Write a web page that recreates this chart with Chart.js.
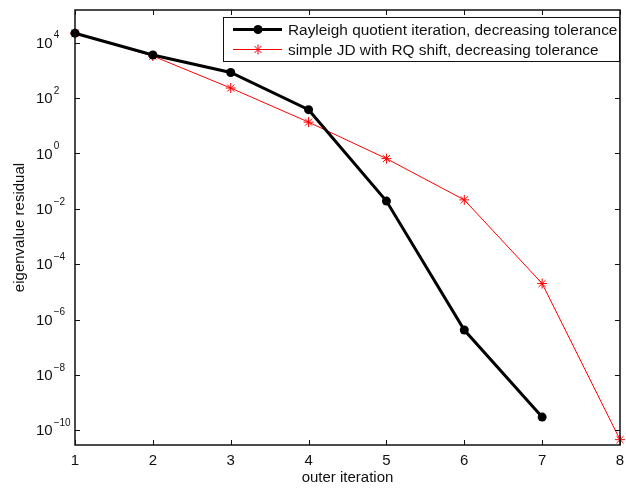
<!DOCTYPE html>
<html>
<head>
<meta charset="utf-8">
<script src="https://cdn.jsdelivr.net/npm/chart.js@4.4.1/dist/chart.umd.min.js"></script>
<style>
    html, body { margin: 0; padding: 0; background: #fff; }
    #wrap { width: 626px; height: 489px; }
</style>
</head>
<body>
<div id="wrap"><canvas id="chart" width="626" height="489"></canvas></div>
<script>
// ---- data ----
const iterations = [1, 2, 3, 4, 5, 6, 7, 8];
const rqiResidual = [2.2e4, 3.6e3, 840, 38, 0.019, 4.2e-7, 3.0e-10];
const jdResidual = [2.2e4, 3.3e3, 230, 13.5, 0.65, 0.021, 2.0e-5, 4.6e-11];
const seriesNames = [
    'Rayleigh quotient iteration, decreasing tolerance',
    'simple JD with RQ shift, decreasing tolerance'
];
const xTickLabels = ['1', '2', '3', '4', '5', '6', '7', '8'];
const yTickExponents = [4, 2, 0, -2, -4, -6, -8, -10];
const xTitle = 'outer iteration';
const yTitle = 'eigenvalue residual';

const FONT = '"Liberation Sans", Helvetica, Arial, sans-serif';
const INK = '#111';

function toPoints(ys) {
    return ys.map((y, i) => ({ x: iterations[i], y: y }));
}

function drawStar(ctx, x, y, r) {
    ctx.beginPath();
    for (let k = 0; k < 4; k++) {
        const a = k * Math.PI / 4;
        ctx.moveTo(x - r * Math.cos(a), y - r * Math.sin(a));
        ctx.lineTo(x + r * Math.cos(a), y + r * Math.sin(a));
    }
    ctx.stroke();
}

// Axes box, inward ticks, tick labels, titles and legend drawn MATLAB-style
const matlabAxes = {
    id: 'matlabAxes',
    afterDraw(chart) {
        const ctx = chart.ctx;
        const a = chart.chartArea;
        const xs = chart.scales.x, ys = chart.scales.y;
        ctx.save();

        // box
        ctx.strokeStyle = INK;
        ctx.lineWidth = 1.5;
        ctx.strokeRect(a.left, a.top, a.right - a.left, a.bottom - a.top);

        // ticks
        ctx.lineWidth = 1;
        const tl = 5;
        ctx.beginPath();
        iterations.forEach(v => {
            const px = Math.round(xs.getPixelForValue(v)) + 0.5;
            ctx.moveTo(px, a.bottom); ctx.lineTo(px, a.bottom - tl);
            ctx.moveTo(px, a.top); ctx.lineTo(px, a.top + tl);
        });
        yTickExponents.forEach(e => {
            const py = Math.round(ys.getPixelForValue(Math.pow(10, e))) + 0.5;
            ctx.moveTo(a.left, py); ctx.lineTo(a.left + tl, py);
            ctx.moveTo(a.right, py); ctx.lineTo(a.right - tl, py);
        });
        ctx.stroke();

        // x tick labels
        ctx.fillStyle = INK;
        ctx.font = '15px ' + FONT;
        ctx.textAlign = 'center';
        ctx.textBaseline = 'middle';
        iterations.forEach((v, i) => {
            ctx.fillText(xTickLabels[i], xs.getPixelForValue(v), a.bottom + 16);
        });

        // y tick labels 10^e
        yTickExponents.forEach(e => {
            const py = ys.getPixelForValue(Math.pow(10, e));
            ctx.textAlign = 'left';
            ctx.textBaseline = 'middle';
            ctx.font = '15px ' + FONT;
            ctx.fillText('10', 36, py + 1);
            const w = ctx.measureText('10').width;
            ctx.font = '10px ' + FONT;
            const exp = e < 0 ? '\u2212' + Math.abs(e) : String(e);
            ctx.fillText(exp, 36 + w + 1, py - 7);
        });

        // axis titles
        ctx.font = '15px ' + FONT;
        ctx.textAlign = 'center';
        ctx.textBaseline = 'middle';
        ctx.fillText(xTitle, (a.left + a.right) / 2, a.bottom + 33);
        ctx.save();
        ctx.translate(20, (a.top + a.bottom) / 2);
        ctx.rotate(-Math.PI / 2);
        ctx.fillText(yTitle, 0, 0);
        ctx.restore();

        // legend
        const lx = 223.5, ly = 17.5, lw = 396, lh = 44;
        ctx.fillStyle = '#fff';
        ctx.fillRect(lx, ly, lw, lh);
        ctx.strokeStyle = INK;
        ctx.lineWidth = 1;
        ctx.strokeRect(lx, ly, lw, lh);

        const rows = [29.5, 49.5];
        // black series sample
        ctx.strokeStyle = '#000';
        ctx.lineWidth = 3;
        ctx.beginPath(); ctx.moveTo(233, rows[0]); ctx.lineTo(282, rows[0]); ctx.stroke();
        ctx.fillStyle = '#000';
        ctx.beginPath(); ctx.arc(258, rows[0], 4.5, 0, Math.PI * 2); ctx.fill();
        // red series sample
        ctx.strokeStyle = '#ff0000';
        ctx.lineWidth = 1;
        ctx.beginPath(); ctx.moveTo(233, rows[1]); ctx.lineTo(282, rows[1]); ctx.stroke();
        drawStar(ctx, 258, rows[1], 5);

        ctx.fillStyle = INK;
        ctx.font = '15.4px ' + FONT;
        ctx.textAlign = 'left';
        ctx.textBaseline = 'middle';
        ctx.fillText(seriesNames[0], 288, rows[0] + 1);
        ctx.fillText(seriesNames[1], 288, rows[1] + 1);

        ctx.restore();
    }
};

new Chart(document.getElementById('chart'), {
    type: 'line',
    data: {
        datasets: [
            {
                label: seriesNames[0],
                data: toPoints(rqiResidual),
                borderColor: '#000',
                backgroundColor: '#000',
                borderWidth: 3,
                pointStyle: 'circle',
                pointRadius: 4.5,
                pointBorderWidth: 0,
                tension: 0,
                clip: false
            },
            {
                label: seriesNames[1],
                data: toPoints(jdResidual),
                borderColor: '#ff0000',
                backgroundColor: '#ff0000',
                borderWidth: 1,
                pointStyle: 'star',
                pointRadius: 5,
                pointBorderWidth: 1,
                tension: 0,
                clip: false
            }
        ]
    },
    options: {
        responsive: false,
        animation: false,
        devicePixelRatio: 1,
        layout: { padding: { left: 75, top: 10, right: 4, bottom: 44 } },
        plugins: { legend: { display: false }, tooltip: { enabled: false } },
        scales: {
            x: {
                type: 'linear',
                min: 1,
                max: 8,
                ticks: { display: false },
                grid: { display: false },
                border: { display: false },
                afterFit(s) { s.height = 0; }
            },
            y: {
                type: 'logarithmic',
                min: Math.pow(10, -10.53),
                max: Math.pow(10, 5.18),
                ticks: { display: false },
                grid: { display: false },
                border: { display: false },
                afterFit(s) { s.width = 0; }
            }
        }
    },
    plugins: [matlabAxes]
});
</script>
</body>
</html>
